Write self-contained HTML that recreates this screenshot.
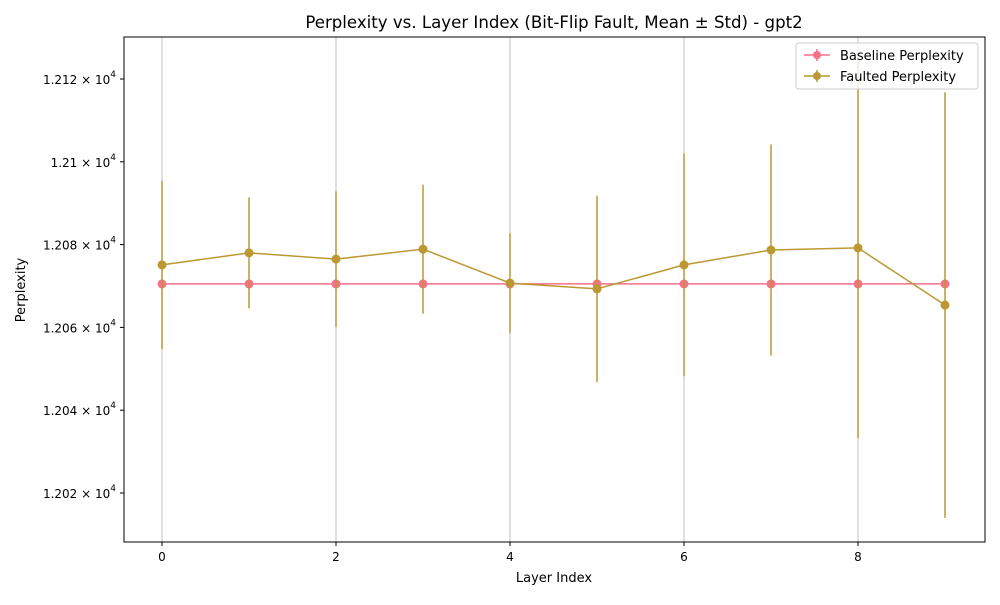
<!DOCTYPE html>
<html><head><meta charset="utf-8"><style>
body{margin:0;background:#fff;font-family:"Liberation Sans","DejaVu Sans",sans-serif}
svg text{font-family:"DejaVu Sans","Liberation Sans",sans-serif}
</style></head><body>
<svg id="chart" width="1000" height="600" xmlns="http://www.w3.org/2000/svg">
<rect width="1000" height="600" fill="#fff"/>
<g id="grid"></g>
<g id="series"></g>
<rect x="124" y="37" width="861" height="505" fill="none" stroke="#000" stroke-width="1"/>
<g id="axes"></g>
<text x="554" y="28" font-size="16.6" text-anchor="middle">Perplexity vs. Layer Index (Bit-Flip Fault, Mean ± Std) - gpt2</text>
<text x="554" y="582" font-size="13" text-anchor="middle">Layer Index</text>
<text x="25" y="290" font-size="13" text-anchor="middle" transform="rotate(-90 25 290)">Perplexity</text>
<g>
<rect x="796" y="43" width="182" height="46" rx="3" fill="#fff" stroke="#ccc" fill-opacity="0.8"/>
<g>
<line x1="804" y1="55" x2="830" y2="55" stroke="#f77189" stroke-width="1.5"/><line x1="817" y1="49" x2="817" y2="61" stroke="#f77189" stroke-width="1.5"/><circle cx="817" cy="55" r="4" fill="#f77189"/>
<text x="840" y="60" font-size="13">Baseline Perplexity</text></g>
<g>
<line x1="804" y1="76" x2="830" y2="76" stroke="#bb9832" stroke-width="1.5"/><line x1="817" y1="70" x2="817" y2="82" stroke="#bb9832" stroke-width="1.5"/><circle cx="817" cy="76" r="4" fill="#bb9832"/>
<text x="840" y="81" font-size="13">Faulted Perplexity</text></g>
</g>
</svg>
<script>
const layers=[0,1,2,3,4,5,6,7,8,9];
const baseline=[12070.5,12070.5,12070.5,12070.5,12070.5,12070.5,12070.5,12070.5,12070.5,12070.5];
const faulted=[12075.1,12078.0,12076.5,12078.9,12070.7,12069.3,12075.1,12078.7,12079.2,12065.4];
const faultedStd=[20.3,13.4,16.4,15.6,12.1,22.5,26.9,25.5,45.9,51.4];
const xTicks=[0,2,4,6,8];
const yTicks=[12020,12040,12060,12080,12100,12120];
const yLabels=["1.202","1.204","1.206","1.208","1.21","1.212"];
const NS="http://www.w3.org/2000/svg";
const xs=v=>162+v*87;
const ys=v=>79+(12120-v)*4.14;
function mk(t,a,p){const e=document.createElementNS(NS,t);for(const k in a)e.setAttribute(k,a[k]);p.appendChild(e);return e;}
const grid=document.getElementById('grid'),axes=document.getElementById('axes'),ser=document.getElementById('series');
xTicks.forEach(t=>{
 const g=mk('line',{x1:xs(t),x2:xs(t),y1:37,y2:542,stroke:'#b0b0b0','stroke-width':0.8},grid);
 
 
 mk('line',{x1:xs(t),x2:xs(t),y1:542,y2:546,stroke:'#000'},axes);
 const tx=mk('text',{x:xs(t),y:561,'font-size':12,'text-anchor':'middle'},axes);tx.textContent=t;
 
 
});
yTicks.forEach((t,i)=>{
 mk('line',{x1:120,x2:124,y1:ys(t),y2:ys(t),stroke:'#000'},axes);
 const tx=mk('text',{x:116,y:ys(t)+5,'font-size':12,'text-anchor':'end'},axes);
 tx.innerHTML=yLabels[i]+' × 10<tspan dy="-7" font-size="9">4</tspan>';
 
 
});
function series(vals,std,col,name){
 const g=mk('g',{},ser);
 
 
 vals.forEach((v,i)=>{if(std){const e=mk('line',{x1:xs(layers[i]),x2:xs(layers[i]),y1:Math.max(37,ys(v+std[i])),y2:ys(v-std[i]),stroke:col,'stroke-width':1.5},g);
 
 }});
 mk('polyline',{points:vals.map((v,i)=>xs(layers[i])+','+ys(v)).join(' '),fill:'none',stroke:col,'stroke-width':1.5},g);
 vals.forEach((v,i)=>{const c=mk('circle',{cx:xs(layers[i]),cy:ys(v),r:4.5,fill:col},g);
 
 });
}
series(baseline,null,'#f77189','baseline-series');
series(faulted,faultedStd,'#bb9832','faulted-series');
</script>
</body></html>
